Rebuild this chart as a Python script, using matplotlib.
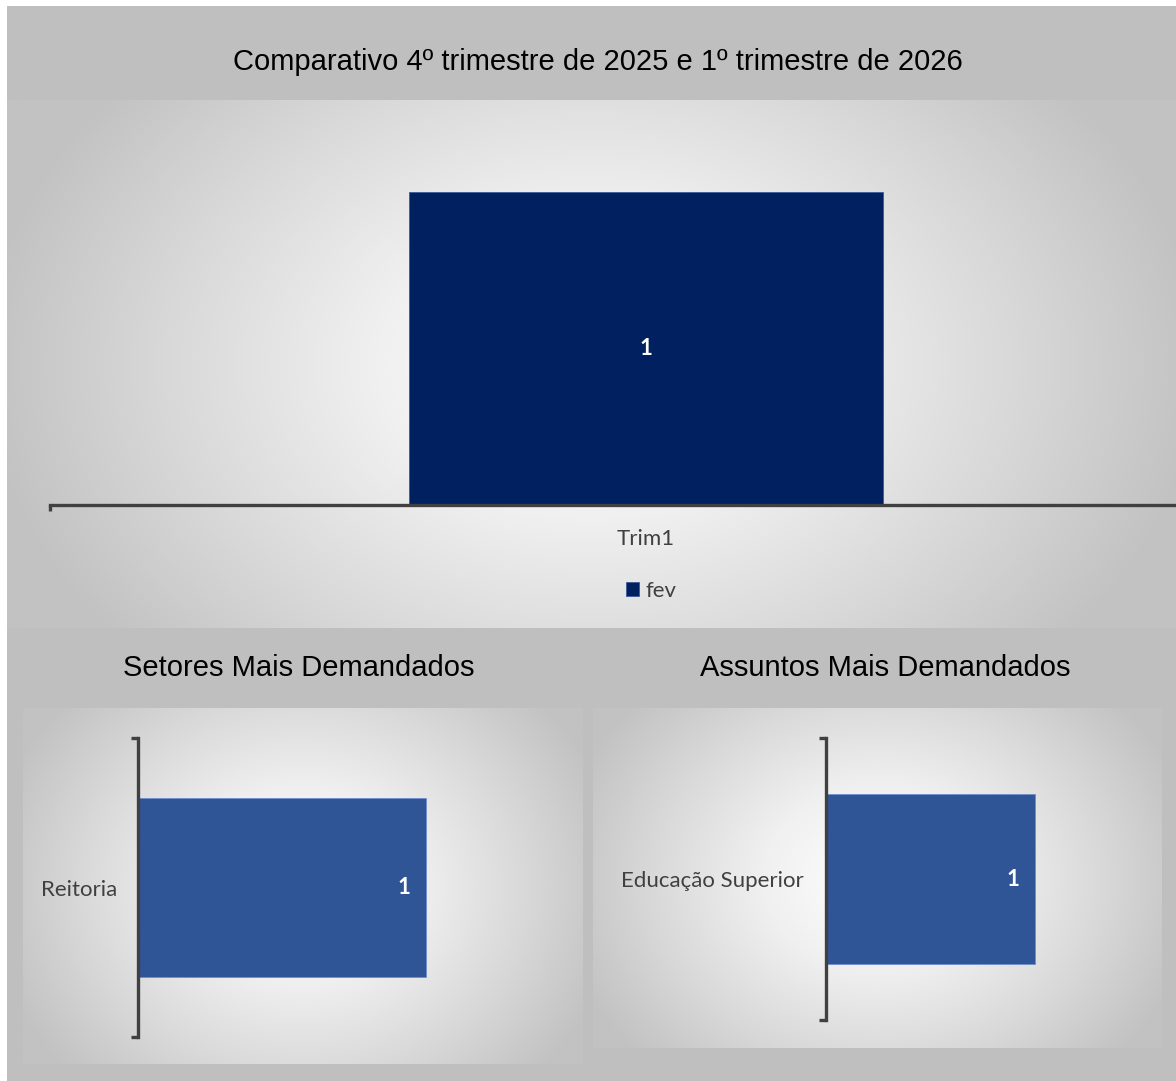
# plot.py - Excel-style dashboard: quarterly comparison + top sectors/subjects

import matplotlib
matplotlib.use("Agg")
import matplotlib.pyplot as plt
import numpy as np
from matplotlib.colors import LinearSegmentedColormap

# ── Data ──────────────────────────────────────────────────────────────────────
TRIM_CATEGORIES = ["Trim1"]
TRIM_SERIES     = "fev"
TRIM_VALUES     = [1]

SETORES         = ["Reitoria"]
SETORES_VALUES  = [1]

ASSUNTOS        = ["Educação Superior"]
ASSUNTOS_VALUES = [1]

TITLE_TOP   = "Comparativo 4º trimestre de 2025 e 1º trimestre de 2026"
TITLE_LEFT  = "Setores Mais Demandados"
TITLE_RIGHT = "Assuntos Mais Demandados"

# ── Style ─────────────────────────────────────────────────────────────────────
W, H = 1176, 1081
DPI  = 100

NAVY      = "#002060"
BLUE      = "#2F5597"
BAND_GRAY = "#BFBFBF"
AXIS_GRAY = "#404040"
TEXT_GRAY = "#404040"

TITLE_FONT = "Liberation Sans"
LABEL_FONT = "Lato"
LABEL_SIZE = 16

GRAD = LinearSegmentedColormap.from_list(
    "grad", [(0.0, "#FFFFFF"), (0.35, "#F0F0F0"), (0.7, "#D8D8D8"), (1.0, "#C2C2C2")])


def px_box(x0, y0, x1, y1):
    """Pixel box (top-left origin) -> figure fraction [left, bottom, w, h]."""
    return [x0 / W, 1 - y1 / H, (x1 - x0) / W, (y1 - y0) / H]


def gradient_panel(fig, box, stretch=1.0, reach=1.0):
    ax = fig.add_axes(px_box(*box), zorder=0)
    xx, yy = np.meshgrid(np.linspace(-1, 1, 400), np.linspace(-1, 1, 400))
    r = np.clip(np.sqrt(xx ** 2 + (yy / stretch) ** 2) / reach, 0, 1)
    ax.imshow(r, cmap=GRAD, vmin=0, vmax=1, aspect="auto",
              extent=[0, 1, 0, 1], interpolation="bilinear")
    ax.axis("off")


def style_hbar(ax, cats, values, xmax, pad):
    bars = ax.barh(cats, values, height=0.6, color=BLUE,
                   edgecolor="#6F8FCB", linewidth=0.6)
    ax.set_xlim(0, xmax)
    ax.set_ylim(-0.5, 0.5)
    ax.set_facecolor("none")
    for side in ["top", "right", "bottom"]:
        ax.spines[side].set_visible(False)
    ax.spines["left"].set_color(AXIS_GRAY)
    ax.spines["left"].set_linewidth(2.4)
    ax.set_xticks([])
    ax.tick_params(axis="y", which="major", length=0, pad=pad,
                   labelsize=LABEL_SIZE, labelcolor=TEXT_GRAY)
    ax.set_yticks([-0.5, 0.5], minor=True)
    ax.tick_params(axis="y", which="minor", length=5, width=2.4,
                   color=AXIS_GRAY)
    for lab in ax.get_yticklabels():
        lab.set_fontfamily(LABEL_FONT)
    for bar, v in zip(bars, values):
        ax.annotate(str(v), xy=(bar.get_width(), bar.get_y() + bar.get_height() / 2),
                    xytext=(-22, 0), textcoords="offset pixels",
                    ha="center", va="center", color="white", fontsize=LABEL_SIZE,
                    fontweight="bold", family=LABEL_FONT)


def main() -> None:
    fig = plt.figure(figsize=(W / DPI, H / DPI), dpi=DPI, facecolor="white")

    # outer gray band
    bg = fig.add_axes(px_box(7, 6, W, H), zorder=-1)
    bg.set_facecolor(BAND_GRAY)
    bg.set_xticks([]); bg.set_yticks([])
    for s in bg.spines.values():
        s.set_visible(False)

    gradient_panel(fig, (7, 100, W, 628), stretch=1.6, reach=1.05)
    gradient_panel(fig, (23, 708, 583, 1064), stretch=1.35, reach=1.15)
    gradient_panel(fig, (593, 708, 1162, 1048), stretch=1.35, reach=1.15)

    # titles
    fig.text(598 / W, 1 - 62 / H, TITLE_TOP, ha="center", va="center",
             fontsize=21, family=TITLE_FONT, color="black")
    fig.text(299 / W, 1 - 668 / H, TITLE_LEFT, ha="center", va="center",
             fontsize=21, family=TITLE_FONT, color="black")
    fig.text(885 / W, 1 - 668 / H, TITLE_RIGHT, ha="center", va="center",
             fontsize=21, family=TITLE_FONT, color="black")

    # top column chart
    ax = fig.add_axes(px_box(50, 130, 1242, 505), zorder=2)
    ax.set_facecolor("none")
    bars = ax.bar(TRIM_CATEGORIES, TRIM_VALUES, width=0.398, color=NAVY,
                  edgecolor="#3A5A9A", linewidth=0.6, label=TRIM_SERIES)
    ax.set_xlim(-0.5, 0.5)
    ax.set_ylim(0, 1.198)
    for side in ["top", "right", "left"]:
        ax.spines[side].set_visible(False)
    ax.spines["bottom"].set_color(AXIS_GRAY)
    ax.spines["bottom"].set_linewidth(2.4)
    ax.set_yticks([])
    ax.tick_params(axis="x", which="major", length=0, pad=17,
                   labelsize=LABEL_SIZE, labelcolor=TEXT_GRAY)
    ax.set_xticks([-0.5, 0.5], minor=True)
    ax.tick_params(axis="x", which="minor", length=4, width=2.4,
                   color=AXIS_GRAY)
    for lab in ax.get_xticklabels():
        lab.set_fontfamily(LABEL_FONT)
    ax.bar_label(bars, labels=[str(v) for v in TRIM_VALUES], label_type="center",
                 color="white", fontsize=LABEL_SIZE, fontweight="bold",
                 family=LABEL_FONT)

    fig.legend(handles=[bars], labels=[TRIM_SERIES], loc="center",
               bbox_to_anchor=(651 / W, 1 - 591 / H), frameon=False,
               handlelength=0.6, handleheight=0.6, handletextpad=0.3,
               prop={"family": LABEL_FONT, "size": LABEL_SIZE},
               labelcolor=TEXT_GRAY)

    # lower horizontal bar charts
    ax_l = fig.add_axes(px_box(138, 738, 560, 1037), zorder=2)
    style_hbar(ax_l, SETORES, SETORES_VALUES, xmax=422 / 288, pad=15)

    ax_r = fig.add_axes(px_box(826, 738, 1140, 1020), zorder=2)
    style_hbar(ax_r, ASSUNTOS, ASSUNTOS_VALUES, xmax=314 / 209, pad=16)

    fig.savefig("out.png", dpi=DPI, facecolor="white")
    plt.close(fig)


if __name__ == "__main__":
    main()
